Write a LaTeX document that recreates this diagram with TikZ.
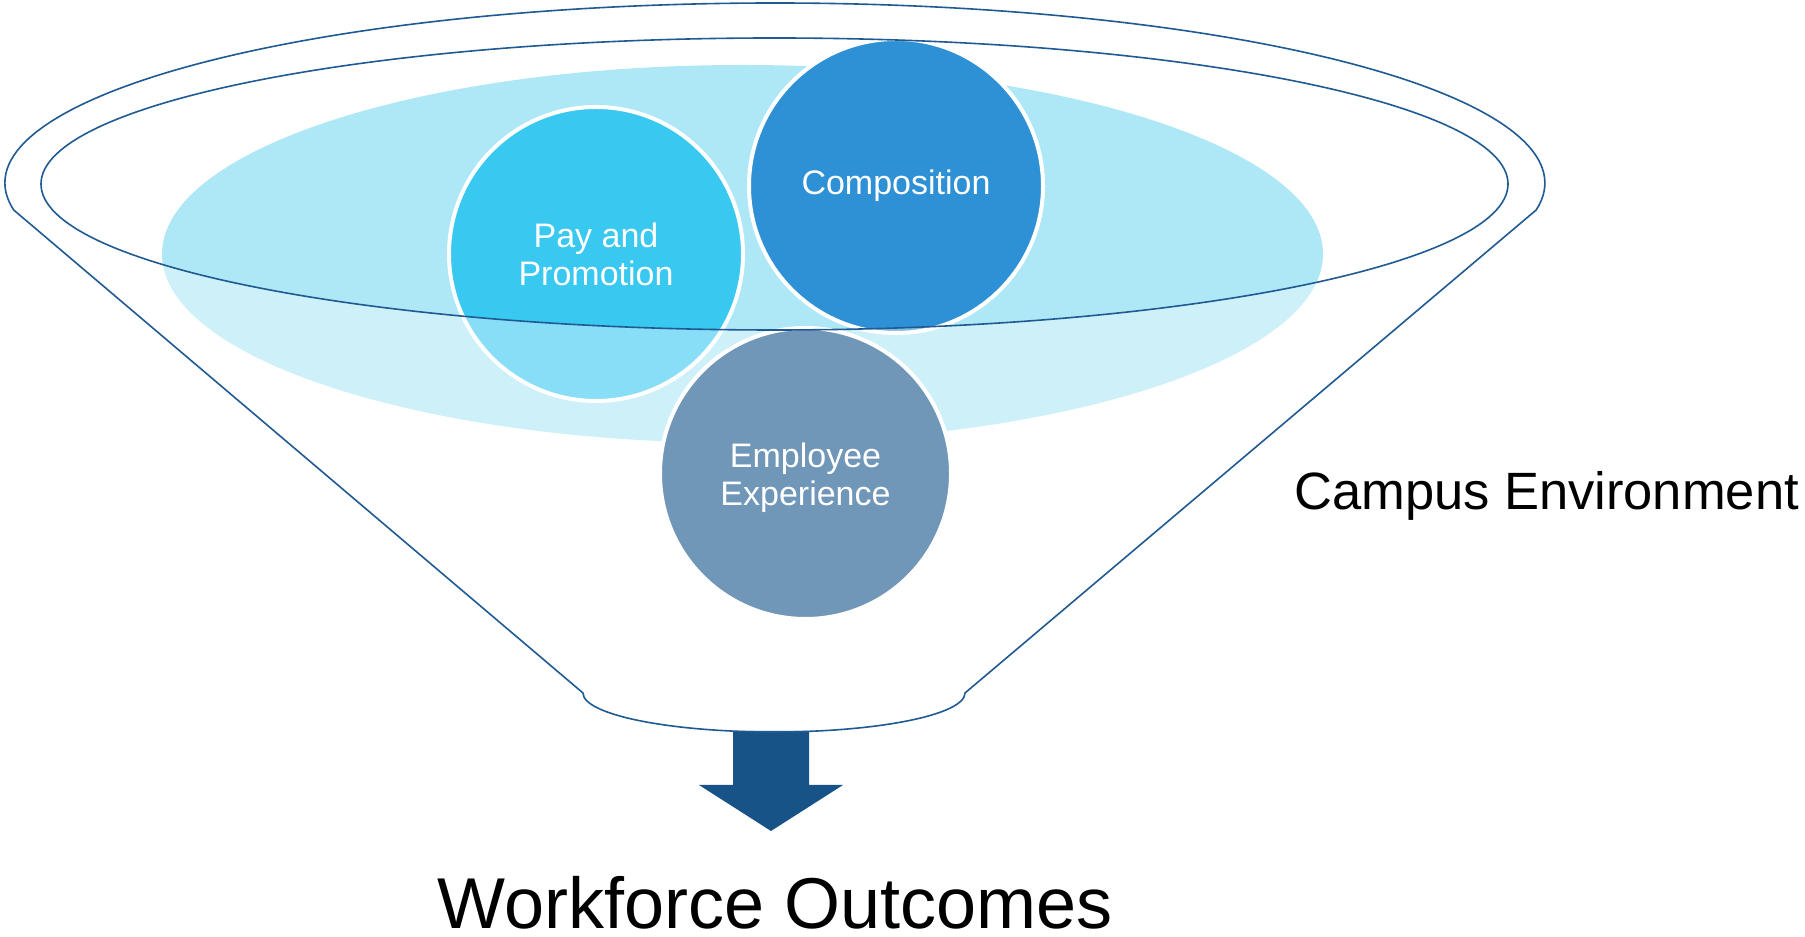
\documentclass[tikz,border=0pt]{standalone}
\usepackage{fontspec}
\setmainfont{Liberation Sans}
\definecolor{haze}{HTML}{AEE8F6}
\definecolor{paycol}{HTML}{38C8F0}
\definecolor{compcol}{HTML}{2E91D5}
\definecolor{empcol}{HTML}{7096B8}
\definecolor{rimblue}{HTML}{1F5A93}
\definecolor{arrowblue}{HTML}{175387}
\begin{document}
\begin{tikzpicture}[x=1pt,y=1pt,
  rimline/.style={draw=rimblue, line width=1.6pt, line join=round},
  bubble/.style={circle, draw=white, line width=4pt, minimum size=294pt,
    inner sep=0pt, text=white, align=center,
    font=\fontsize{34}{38}\selectfont},
  bubbletext/.style={inner sep=0pt, text=white, align=center,
    font=\fontsize{34}{38}\selectfont},
  caption/.style={inner sep=0pt, text=black}
]
\useasboundingbox (0,0) rectangle (1805,937);

% pale backdrop inside the funnel
\fill[haze] (742.5,683) ellipse [x radius=580.5pt, y radius=189pt];

% the two upper bubbles
\node[bubble, fill=paycol] (pay) at (596,683) {Pay and\\Promotion};
\node[bubble, fill=compcol] (comp) at (896,751) {Composition};

% translucent funnel body (rim opening left clear)
\fill[white, fill opacity=0.4, even odd rule]
  (13.7,727) arc[start angle=188.63, end angle=-8.63, x radius=770pt, y radius=180pt]
  -- (965,244) arc[start angle=0, end angle=-180, x radius=191pt, y radius=39pt]
  -- cycle
  (774.5,753) ellipse [x radius=733.5pt, y radius=146pt];

% lower bubble
\node[bubble, fill=empcol, minimum size=291pt] (emp) at (805.5,463.5) {};
\node[bubbletext] (emptext) at ([yshift=-4pt]emp.center) {Employee\\Experience};

% output arrow
\fill[arrowblue] (733,206) -- (809,206) -- (809,152) -- (843,152)
  -- (771,106) -- (699,152) -- (733,152) -- cycle;

% funnel outline
\draw[rimline]
  (13.7,727) arc[start angle=188.63, end angle=-8.63, x radius=770pt, y radius=180pt]
  -- (965,244) arc[start angle=0, end angle=-180, x radius=191pt, y radius=39pt]
  -- cycle;
\draw[rimline] (774.5,753) ellipse [x radius=733.5pt, y radius=146pt];

% labels
\node[caption, anchor=base west, font=\fontsize{52.5}{60}\selectfont] (campus) at (1294,427) {Campus Environment};
\node[caption, anchor=base, font=\fontsize{72}{80}\selectfont] (outcomes) at (775,8) {Workforce Outcomes};
\end{tikzpicture}
\end{document}
